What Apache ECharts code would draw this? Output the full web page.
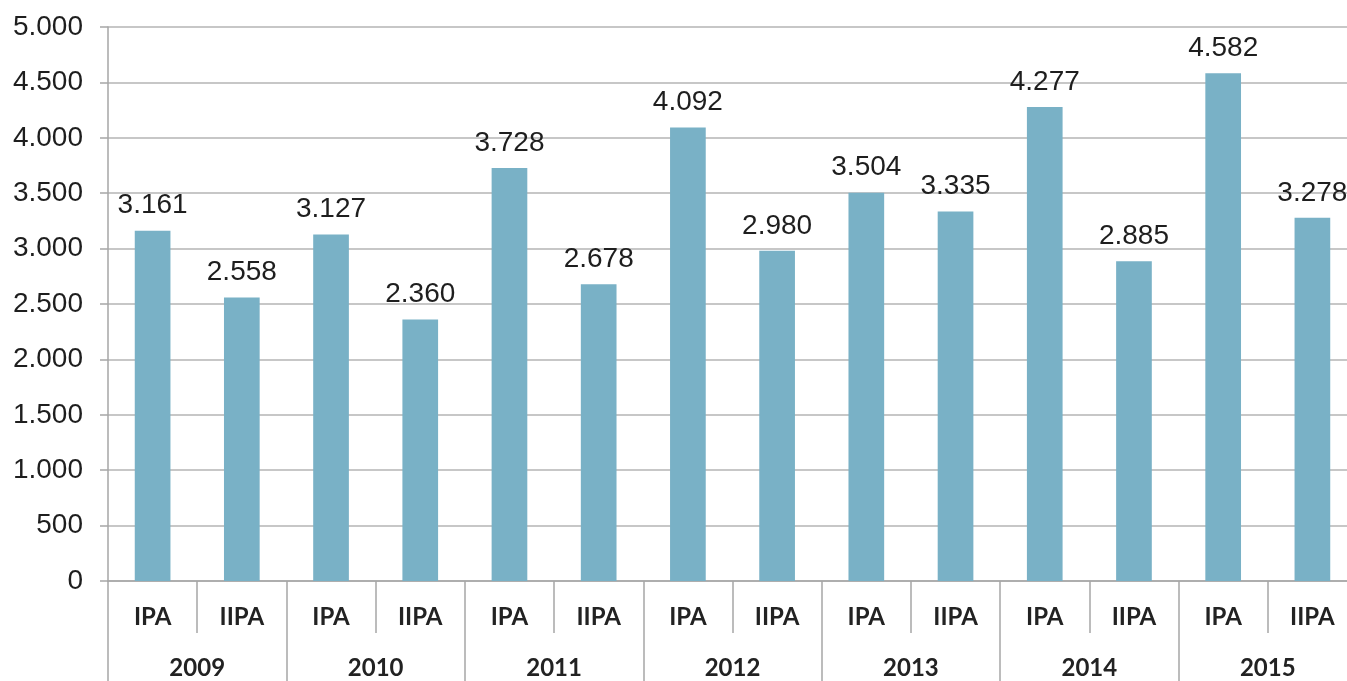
<!DOCTYPE html>
<html>
<head>
<meta charset="utf-8">
<script src="https://cdn.jsdelivr.net/npm/echarts@6/dist/echarts.min.js"></script>
<style>
  html, body { margin: 0; padding: 0; background: #fff; }
  #chart { width: 1347px; height: 681px; }
</style>
</head>
<body>
<div id="chart"></div>
<script>
var programs = ['IPA', 'IIPA', 'IPA', 'IIPA', 'IPA', 'IIPA', 'IPA', 'IIPA', 'IPA', 'IIPA', 'IPA', 'IIPA', 'IPA', 'IIPA'];
var years = ['2009', '2010', '2011', '2012', '2013', '2014', '2015'];
var values = [3161, 2558, 3127, 2360, 3728, 2678, 4092, 2980, 3504, 3335, 4277, 2885, 4582, 3278];

// 1234 -> "1.234"
function fmt(v) {
    return String(v).replace(/\B(?=(\d{3})+(?!\d))/g, '.');
}

var chart = echarts.init(document.getElementById('chart'));
chart.setOption({
    animation: false,
    grid: { left: 108, right: -10, top: 27, bottom: 100, outerBoundsMode: 'none', containLabel: false },
    xAxis: [{
        type: 'category',
        data: programs,
        position: 'bottom',
        axisLine: { show: true, lineStyle: { color: '#a6a6a6', width: 1.5 } },
        axisTick: { show: true, interval: 0, length: 52, lineStyle: { color: '#a6a6a6', width: 1.5 } },
        axisLabel: {
            interval: 0, margin: 24,
            fontFamily: 'Lato', fontWeight: 'bold', fontSize: 24, color: '#222'
        }
    }, {
        type: 'category',
        data: years,
        position: 'bottom',
        axisLine: { show: false },
        axisTick: { show: true, interval: 0, length: 100, lineStyle: { color: '#a6a6a6', width: 1.5 } },
        axisLabel: {
            interval: 0, margin: 75,
            fontFamily: 'Lato', fontWeight: 'bold', fontSize: 24, color: '#222'
        }
    }],
    yAxis: {
        type: 'value',
        min: 0, max: 5000, interval: 500,
        axisLine: { show: true, lineStyle: { color: '#a6a6a6', width: 1.5 } },
        axisTick: { show: true, length: 8, lineStyle: { color: '#a6a6a6', width: 1.5 } },
        splitLine: { show: true, lineStyle: { color: '#b5b5b5', width: 1.5 } },
        axisLabel: {
            margin: 25, formatter: fmt,
            fontFamily: 'Liberation Sans', fontSize: 28, color: '#1e1e1e'
        }
    },
    series: [{
        type: 'bar',
        data: values,
        barWidth: '40%',
        itemStyle: { color: '#79b1c6' },
        label: {
            show: true, position: 'top', distance: 11,
            formatter: function (p) { return fmt(p.value); },
            fontFamily: 'Liberation Sans', fontSize: 28, color: '#1e1e1e'
        }
    }]
});
</script>
</body>
</html>
